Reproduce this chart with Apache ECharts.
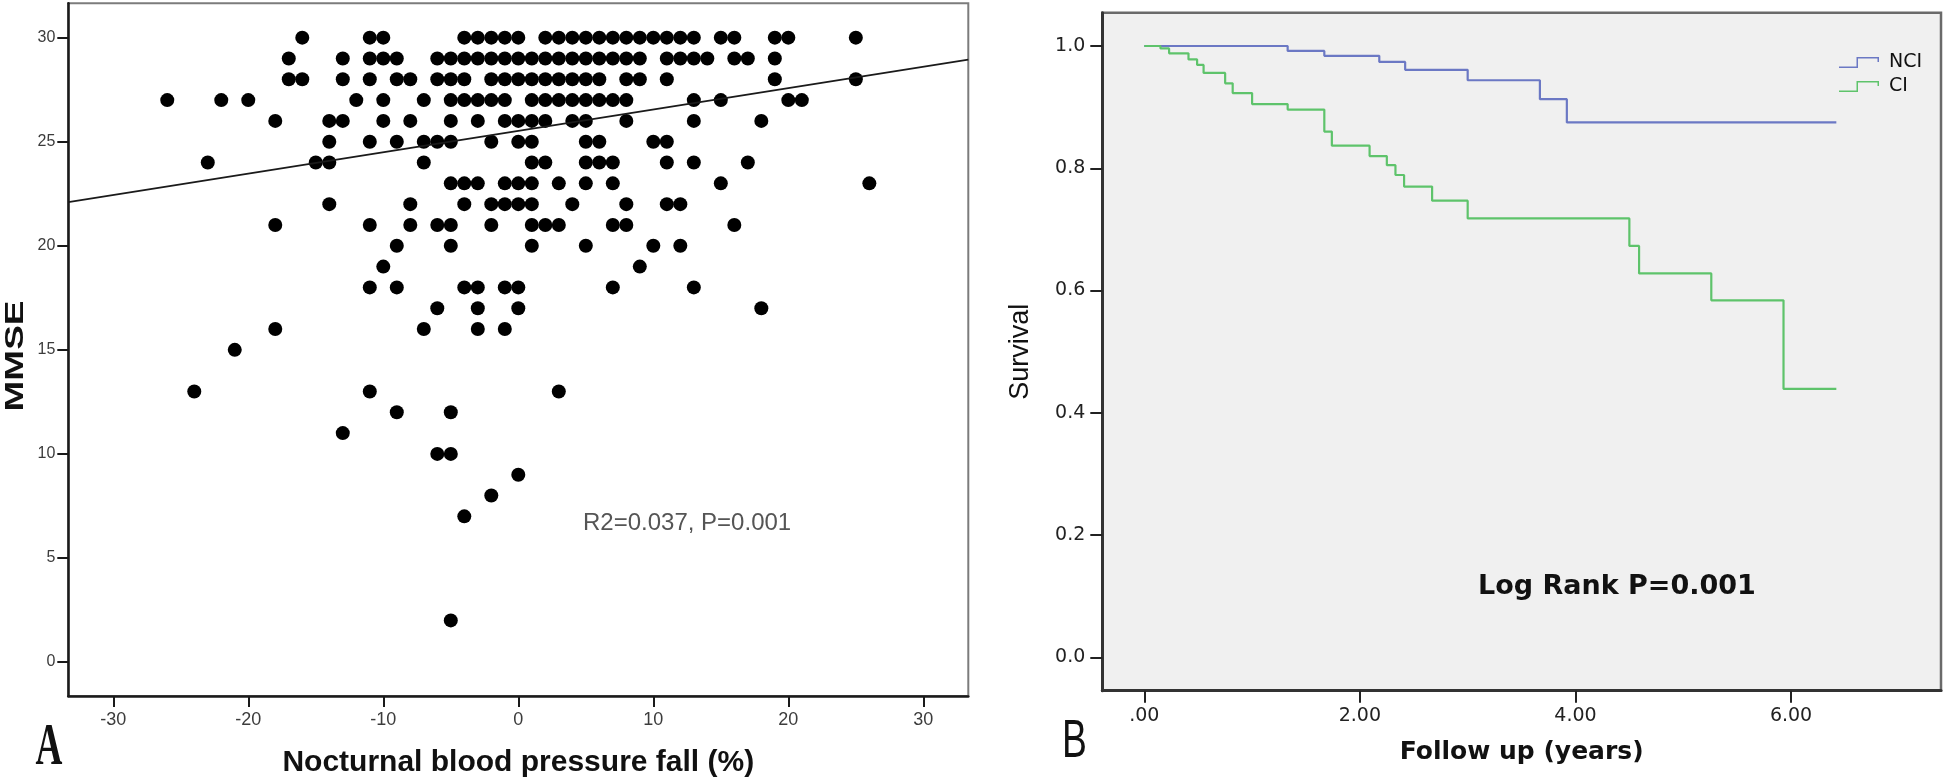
<!DOCTYPE html>
<html><head><meta charset="utf-8">
<script src="https://cdn.jsdelivr.net/npm/echarts/dist/echarts.min.js"></script>
<style>html,body{margin:0;padding:0;background:#fff}#c{width:1946px;height:783px}</style>
</head><body><div id="c"></div>
<script>
// ---------- Panel A: MMSE vs nocturnal BP fall ----------
const mmseLevels = [30, 29, 28, 27, 26, 25, 24, 23, 22, 21, 20, 19, 18, 17, 16, 15, 13, 12, 11, 10, 9, 8, 7, 2];
const bpFallAtLevel = [
  [-16, -11, -10, -4, -3, -2, -1, 0, 2, 3, 4, 5, 6, 7, 8, 9, 10, 11, 12, 13, 15, 16, 19, 20, 25],
  [-17, -13, -11, -10, -9, -6, -5, -4, -3, -2, -1, 0, 1, 2, 3, 4, 5, 6, 7, 8, 9, 11, 12, 13, 14, 16, 17, 19],
  [-17, -16, -13, -11, -9, -8, -6, -5, -4, -2, -1, 0, 1, 2, 3, 4, 5, 6, 8, 9, 11, 19, 25],
  [-26, -22, -20, -12, -10, -7, -5, -4, -3, -2, -1, 1, 2, 3, 4, 5, 6, 7, 8, 13, 15, 20, 21],
  [-18, -14, -13, -10, -8, -5, -3, -1, 0, 1, 2, 4, 5, 8, 13, 18],
  [-14, -11, -9, -7, -6, -5, -2, 0, 1, 5, 6, 10, 11],
  [-23, -15, -14, -7, 1, 2, 5, 6, 7, 11, 13, 17],
  [-5, -4, -3, -1, 0, 1, 3, 5, 7, 15, 26],
  [-14, -8, -4, -2, -1, 0, 1, 4, 8, 11, 12],
  [-18, -11, -8, -6, -5, -2, 1, 2, 3, 7, 8, 16],
  [-9, -5, 1, 5, 10, 12],
  [-10, 9],
  [-11, -9, -4, -3, -1, 0, 7, 13],
  [-6, -3, 0, 18],
  [-18, -7, -3, -1],
  [-21],
  [-24, -11, 3],
  [-9, -5],
  [-13],
  [-6, -5],
  [0],
  [-2],
  [-4],
  [-5]
];
const fitLineFall = [-33.33, 33.33];
const fitLineMmse = [22.1, 28.94];
const fallTicks = [-30, -20, -10, 0, 10, 20, 30];
const mmseTicks = [0, 5, 10, 15, 20, 25, 30];

// ---------- Panel B: Kaplan-Meier survival ----------
const groupNames = ['NCI', 'CI'];
const nciTime = [0, 1.33, 1.67, 2.18, 2.42, 3.00, 3.67, 3.92, 6.42];
const nciSurv = [1, 0.992, 0.984, 0.974, 0.961, 0.944, 0.913, 0.875, 0.875];
const ciTime = [0, 0.15, 0.23, 0.41, 0.49, 0.55, 0.75, 0.82, 1.00, 1.33, 1.67, 1.74, 2.09, 2.25, 2.33, 2.41, 2.67, 3.00, 4.50, 4.59, 5.26, 5.93, 6.42];
const ciSurv = [1, 0.996, 0.988, 0.978, 0.969, 0.956, 0.939, 0.923, 0.905, 0.896, 0.860, 0.837, 0.820, 0.805, 0.789, 0.770, 0.747, 0.718, 0.673, 0.628, 0.584, 0.439, 0.439];
const timeTicks = [0, 2, 4, 6];
const survTicks = [0, 0.2, 0.4, 0.6, 0.8, 1.0];

const scatterData = [];
mmseLevels.forEach((m, i) => bpFallAtLevel[i].forEach(x => scatterData.push([x, m])));
const fitData = fitLineFall.map((x, i) => [x, fitLineMmse[i]]);
const nciData = nciTime.map((t, i) => [t, nciSurv[i]]);
const ciData = ciTime.map((t, i) => [t, ciSurv[i]]);

const A_FONT = '"Liberation Sans", Arial, sans-serif';
const B_FONT = '"DejaVu Sans", Verdana, sans-serif';
const NCI_COLOR = '#6b78c4';
const CI_COLOR = '#5ec36b';
const legendIcon = 'path://M0,19 L35,19 L35,0 L80,0 L80,10 L77,10 L77,3 L38,3 L38,22 L0,22 Z';

const chart = echarts.init(document.getElementById('c'), null, {renderer: 'canvas'});
chart.setOption({
  animation: false,
  backgroundColor: '#ffffff',
  grid: [
    {left: 68.3, top: 3.3, width: 900, height: 693.4, show: true, backgroundColor: '#ffffff', borderColor: '#7c7c7c', borderWidth: 2},
    {left: 1102.3, top: 12.7, width: 838.7, height: 678, show: true, backgroundColor: '#f0f0f0', borderColor: '#6a6a6a', borderWidth: 2.5}
  ],
  xAxis: [
    {
      gridIndex: 0, type: 'value', min: -33.33, max: 33.33,
      name: 'Nocturnal blood pressure fall (%)', nameLocation: 'middle', nameGap: 52,
      nameTextStyle: {fontFamily: A_FONT, fontWeight: 'bold', fontSize: 30, color: '#111'},
      axisLine: {onZero: false, lineStyle: {color: '#1a1a1a', width: 2.5}},
      axisTick: {length: 11, lineStyle: {color: '#1a1a1a', width: 2}, customValues: fallTicks},
      axisLabel: {customValues: fallTicks, margin: 15, fontFamily: A_FONT, fontSize: 18, color: '#3c3c3c'},
      splitLine: {show: false}
    },
    {
      gridIndex: 1, type: 'value', min: -0.3896, max: 7.391,
      name: 'Follow up (years)', nameLocation: 'middle', nameGap: 49,
      nameTextStyle: {fontFamily: B_FONT, fontWeight: 'bold', fontSize: 25, color: '#111'},
      axisLine: {onZero: false, lineStyle: {color: '#333', width: 3}},
      axisTick: {length: 12, lineStyle: {color: '#222', width: 2}, customValues: timeTicks},
      axisLabel: {customValues: timeTicks, margin: 16, fontFamily: B_FONT, fontSize: 19, color: '#222',
        formatter: v => (v === 0 ? '.00' : v.toFixed(2))},
      splitLine: {show: false}
    }
  ],
  yAxis: [
    {
      gridIndex: 0, type: 'value', min: -1.632, max: 31.651,
      axisLine: {onZero: false, lineStyle: {color: '#1a1a1a', width: 2.5}},
      axisTick: {length: 11, lineStyle: {color: '#1a1a1a', width: 2}, customValues: mmseTicks},
      axisLabel: {customValues: mmseTicks, margin: 13, fontFamily: A_FONT, fontSize: 16, color: '#3c3c3c'},
      splitLine: {show: false}
    },
    {
      gridIndex: 1, type: 'value', min: -0.0546, max: 1.0545,
      name: 'Survival', nameLocation: 'middle', nameGap: 68,
      nameTextStyle: {fontFamily: A_FONT, fontSize: 27, color: '#111'},
      axisLine: {onZero: false, lineStyle: {color: '#333', width: 3}},
      axisTick: {length: 12, lineStyle: {color: '#222', width: 2}, customValues: survTicks},
      axisLabel: {customValues: survTicks, margin: 17, fontFamily: B_FONT, fontSize: 19, color: '#222',
        formatter: v => v.toFixed(1)},
      splitLine: {show: false}
    }
  ],
  legend: {
    data: groupNames, orient: 'vertical', left: 1839, top: 53, padding: 0,
    itemWidth: 40, itemHeight: 11, itemGap: 5, icon: legendIcon,
    textStyle: {fontFamily: B_FONT, fontSize: 19, lineHeight: 19, color: '#111', padding: [0, 0, 0, 5]},
    selectedMode: false
  },
  series: [
    {
      type: 'scatter', name: 'MMSE', xAxisIndex: 0, yAxisIndex: 0, data: scatterData,
      symbol: 'circle', symbolSize: 14, itemStyle: {color: '#000', opacity: 1}, silent: true
    },
    {
      type: 'line', name: 'fit', xAxisIndex: 0, yAxisIndex: 0, data: fitData,
      symbol: 'none', lineStyle: {color: '#1a1a1a', width: 1.8}, silent: true, z: 3
    },
    {
      type: 'line', name: groupNames[0], xAxisIndex: 1, yAxisIndex: 1, data: nciData, step: 'end',
      symbol: 'none', color: NCI_COLOR, itemStyle: {color: NCI_COLOR}, lineStyle: {color: NCI_COLOR, width: 2.2}, silent: true
    },
    {
      type: 'line', name: groupNames[1], xAxisIndex: 1, yAxisIndex: 1, data: ciData, step: 'end',
      symbol: 'none', color: CI_COLOR, itemStyle: {color: CI_COLOR}, lineStyle: {color: CI_COLOR, width: 2.2}, silent: true
    }
  ],
  graphic: [
    {type: 'text', x: 16, y: 356, rotation: Math.PI / 2, scaleX: 1.42, silent: true,
      style: {text: 'MMSE', fontFamily: A_FONT, fontWeight: 'bold', fontSize: 26, fill: '#111', align: 'center', verticalAlign: 'middle'}},
    {type: 'text', x: 583, y: 523, silent: true,
      style: {text: 'R2=0.037, P=0.001', fontFamily: A_FONT, fontSize: 24, fill: '#555', align: 'left', verticalAlign: 'middle'}},
    {type: 'text', x: 49, y: 748, scaleX: 0.62, silent: true,
      style: {text: 'A', fontFamily: '"Liberation Serif", "Times New Roman", serif', fontWeight: 'bold', fontSize: 60, fill: '#111', align: 'center', verticalAlign: 'middle'}},
    {type: 'text', x: 1074.5, y: 742.5, scaleX: 0.69, silent: true,
      style: {text: 'B', fontFamily: A_FONT, fontSize: 54, fill: '#111', align: 'center', verticalAlign: 'middle'}},
    {type: 'text', x: 1478, y: 587, silent: true,
      style: {text: 'Log Rank P=0.001', fontFamily: B_FONT, fontWeight: 'bold', fontSize: 27, fill: '#111', align: 'left', verticalAlign: 'middle'}}
  ]
});
</script>
</body></html>
